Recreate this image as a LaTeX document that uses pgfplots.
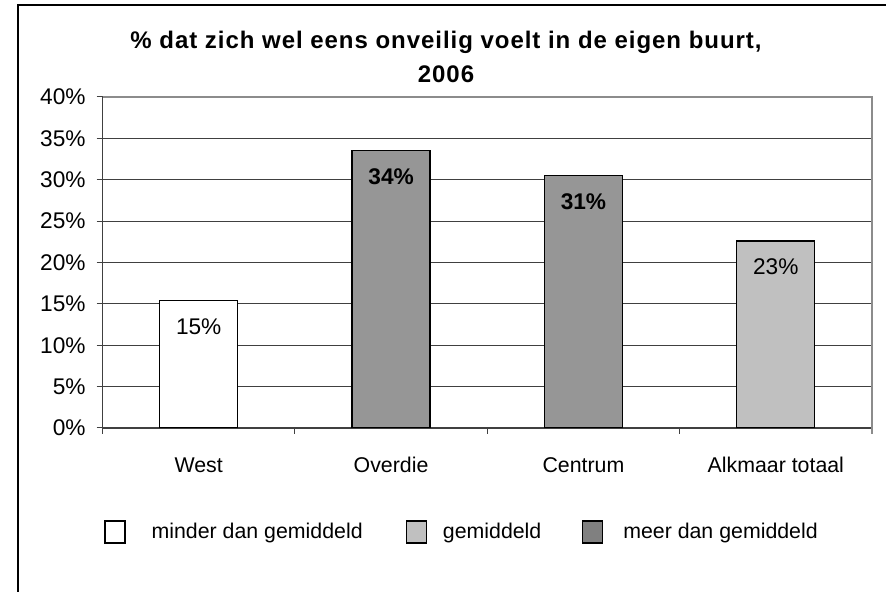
\documentclass[border=0pt]{standalone}
\usepackage{pgfplots}
\pgfplotsset{compat=1.18}
\usepackage{fontspec}
\setmainfont{Liberation Sans}
\setsansfont{Liberation Sans}
\newfontfamily\titlefont[LetterSpace=4]{Liberation Sans}
\definecolor{barDark}{HTML}{969696}
\definecolor{barLight}{HTML}{C0C0C0}
\definecolor{legDark}{HTML}{808080}
\definecolor{gridC}{HTML}{404040}
\definecolor{borderC}{HTML}{8C8C8C}
\newcommand{\fs}{\fontsize{16pt}{19pt}\selectfont}
\newcommand{\fl}{\fontsize{17pt}{20pt}\selectfont}
\begin{document}
\begin{tikzpicture}
\path[use as bounding box] (-76.9pt,-123pt) rectangle (587.6pt,321pt);
\draw[line width=1.1pt] (-63.4pt,-130pt) -- (-63.4pt,317.25pt) -- (600pt,317.25pt);
\begin{axis}[
  scale only axis, width=577.1pt, height=248.25pt,
  ymin=0, ymax=40, xmin=-0.5, xmax=3.5,
  ytick={0,5,...,40},
  yticklabel={\pgfmathprintnumber{\tick}\%},
  /pgf/number format/assume math mode=true,
  xtick={0,1,2,3}, xticklabels={West,Overdie,Centrum,Alkmaar totaal},
  minor xtick={-0.5,0.5,1.5,2.5,3.5},
  axis x line*=bottom, axis y line*=left,
  axis line style={gridC, line width=0.9pt, -},
  ymajorgrids, major grid style={gridC, line width=0.75pt},
  tick align=outside,
  major tick length=4.5pt, minor tick length=4.5pt,
  tick style={gridC, line width=0.75pt},
  major x tick style={draw=none},
  xticklabel style={font=\fs, anchor=base, inner sep=0pt, yshift=-29pt},
  yticklabel style={font=\fl, anchor=east, inner sep=0pt, xshift=-8pt},
  point meta=explicit symbolic,
  legend image code/.code={\draw[#1] (0pt,-8.25pt) rectangle (15pt,8.25pt);},
  legend columns=3,
  legend style={draw=none, fill=none, inner sep=0pt, column sep=0pt, row sep=0pt,
    at={(0.0019,-0.3142)}, anchor=west, nodes={inner sep=0pt, font=\fs}},
  legend cell align=left,
]
\addplot[ybar, bar width=58.5pt, bar shift=0pt, fill=white, draw=black, line width=0.9pt, forget plot,
  nodes near coords, every node near coord/.append style={font=\fl, anchor=center, yshift=-19.5pt, text=black}]
  coordinates {(0,15.4) [15\%]};
\addplot[ybar, bar width=58.5pt, bar shift=0pt, fill=barDark, draw=black, line width=0.9pt, forget plot,
  nodes near coords, every node near coord/.append style={font=\fl\bfseries, anchor=center, yshift=-19.5pt, text=black}]
  coordinates {(1,33.5) [34\%] (2,30.5) [31\%]};
\addplot[ybar, bar width=58.5pt, bar shift=0pt, fill=barLight, draw=black, line width=0.9pt, forget plot,
  nodes near coords, every node near coord/.append style={font=\fl, anchor=center, yshift=-19.5pt, text=black}]
  coordinates {(3,22.6) [23\%]};
\addlegendimage{fill=white, draw=black, line width=1pt}
\addlegendentry{\makebox[210pt][l]{\hspace*{19.5pt}minder dan gemiddeld}}
\addlegendimage{fill=barLight, draw=black, line width=1pt}
\addlegendentry{\makebox[116.25pt][l]{\hspace*{12pt}gemiddeld}}
\addlegendimage{fill=legDark, draw=black, line width=1pt}
\addlegendentry{\hspace*{15pt}meer dan gemiddeld}
\end{axis}
\draw[borderC, line width=0.9pt] (0,248.25pt) -- (577.1pt,248.25pt) -- (577.1pt,-4.5pt);
\node[font=\titlefont\bfseries\fontsize{18pt}{21pt}\selectfont, anchor=base] at (257.6pt,284.5pt) {\% dat zich wel eens onveilig voelt in de eigen buurt,};
\node[font=\titlefont\bfseries\fontsize{18pt}{21pt}\selectfont, anchor=base] at (257.6pt,259pt) {2006};
\end{tikzpicture}
\end{document}
